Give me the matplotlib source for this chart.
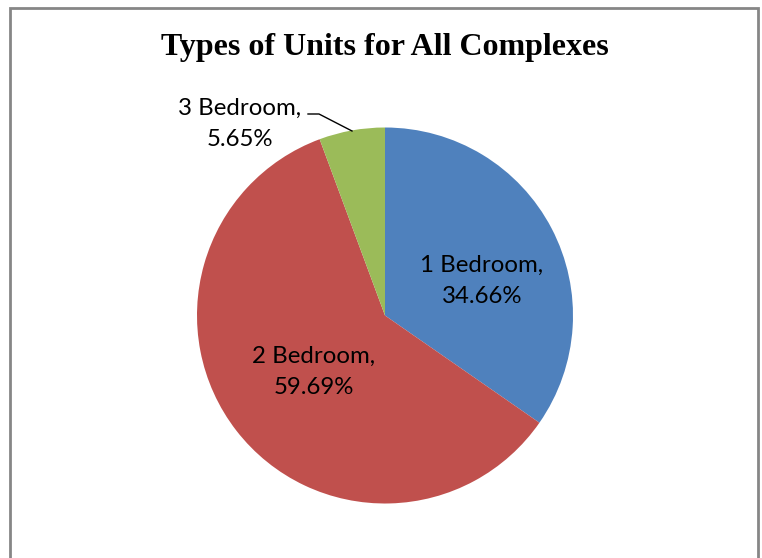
import matplotlib
matplotlib.use("Agg")
import matplotlib.pyplot as plt
from matplotlib.patches import Rectangle

labels = ["1 Bedroom", "2 Bedroom", "3 Bedroom"]
shares = [34.66, 59.69, 5.65]
colors = ["#4F81BD", "#C0504D", "#9BBB59"]

W, H = 762, 558
fig = plt.figure(figsize=(W / 100, H / 100), dpi=100)
ax = fig.add_axes([0, 0, 1, 1])

# chart border (runs off the bottom edge)
ax.add_patch(Rectangle((9.5, -20), 748, H - 7.5 + 20, fill=False,
                       edgecolor="#868686", lw=2))

ax.text(385, H - 47, "Types of Units for All Complexes", ha="center", va="center",
        family="Liberation Serif", weight="bold", fontsize=23)

ax.pie(shares, colors=colors, startangle=90, counterclock=False,
       center=(385, H - 315.5), radius=188, frame=True,
       wedgeprops=dict(linewidth=0))
ax.set_xlim(0, W)
ax.set_ylim(0, H)
ax.set_aspect("equal")
ax.axis("off")

txt = [f"{l},\n{s:.2f}%" for l, s in zip(labels, shares)]
pos = [(482, H - 281), (314, H - 372), (240, H - 124)]
for t, (x, y) in zip(txt, pos):
    ax.text(x, y, t, ha="center", va="center", family="Lato", fontsize=17.3,
            linespacing=1.6, color="black")

# leader line for the small slice
ax.plot([308, 319, 352], [H - 114, H - 114, H - 131], color="black", lw=1)

fig.savefig("out.png", dpi=100)
